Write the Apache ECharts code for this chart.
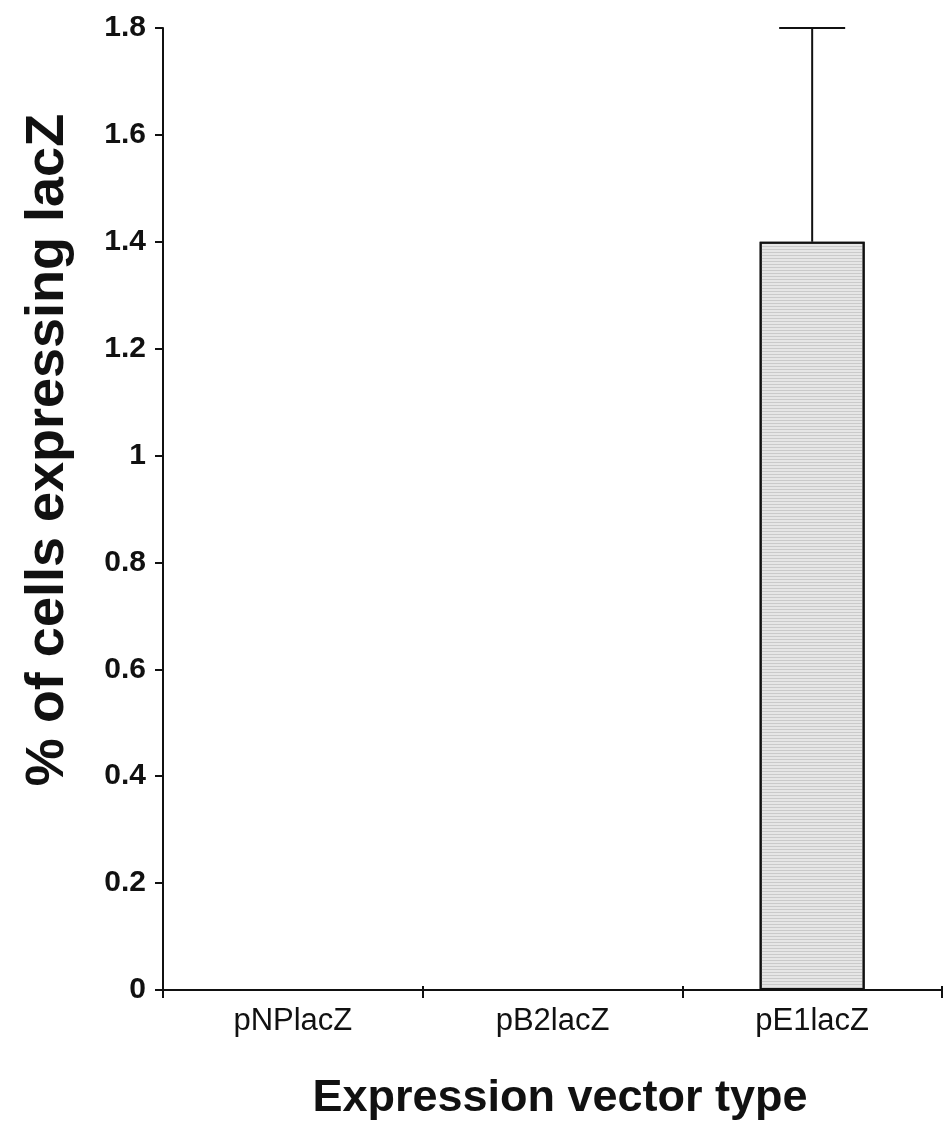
<!DOCTYPE html>
<html>
<head>
<meta charset="utf-8">
<script src="https://cdn.jsdelivr.net/npm/echarts@6/dist/echarts.min.js"></script>
<style>html,body{margin:0;padding:0;background:#fff;}#c{width:943px;height:1130px;}</style>
</head>
<body>
<div id="c"></div>
<script>
const categories = ['pNPlacZ', 'pB2lacZ', 'pE1lacZ'];
const values = [0, 0, 1.4];
const errors = [0, 0, 0.4];
const yTicks = [0, 0.2, 0.4, 0.6, 0.8, 1, 1.2, 1.4, 1.6, 1.8];

const chart = echarts.init(document.getElementById('c'));
const errData = categories.map((c, i) => [i, values[i], values[i] + errors[i]]);

chart.setOption({
  animation: false,
  backgroundColor: '#fff',
  grid: { left: 163, right: 1, top: 28, bottom: 140, containLabel: false },
  xAxis: [{
    type: 'category',
    data: categories,
    boundaryGap: true,
    axisLine: { lineStyle: { color: '#111', width: 2 } },
    axisTick: { show: true, length: 8, lineStyle: { color: '#111', width: 2 } },
    axisLabel: { color: '#111', fontFamily: 'Liberation Sans, Arial', fontSize: 31, margin: 16 },
    splitLine: { show: false }
  }, {
    type: 'category',
    data: categories,
    position: 'bottom',
    boundaryGap: true,
    axisLine: { show: false },
    axisTick: { show: true, inside: true, length: 4, lineStyle: { color: '#111', width: 2 } },
    axisLabel: { show: false },
    splitLine: { show: false }
  }],
  yAxis: {
    type: 'value',
    min: 0, max: 1.8, interval: 0.2,
    axisLine: { show: true, lineStyle: { color: '#111', width: 2 } },
    axisTick: { show: true, length: 8, lineStyle: { color: '#111', width: 2 } },
    splitLine: { show: false },
    axisLabel: {
      color: '#111', fontFamily: 'Liberation Sans, Arial', fontSize: 30, fontWeight: 'bold', margin: 17,
      formatter: v => {
        const t = yTicks.find(x => Math.abs(x - v) < 1e-9);
        return t === undefined ? '' : String(t);
      }
    }
  },
  series: [{
    type: 'bar',
    data: values,
    barWidth: 105,
    itemStyle: {
      color: '#e6e6e6',
      borderColor: '#111',
      borderWidth: 2,
      decal: { symbol: 'rect', symbolSize: 1, dashArrayX: [1, 0], dashArrayY: [1, 2], rotation: 0, color: 'rgba(150,150,150,0.35)' }
    },
    z: 2
  }, {
    type: 'custom',
    data: errData,
    z: 3,
    renderItem: (params, api) => {
      const i = api.value(0);
      const lo = api.coord([i, api.value(1)]);
      const hi = api.coord([i, api.value(2)]);
      if (api.value(2) === api.value(1)) return null;
      const half = 33;
      return {
        type: 'group',
        children: [
          { type: 'line', shape: { x1: lo[0], y1: lo[1], x2: hi[0], y2: hi[1] }, style: { stroke: '#111', lineWidth: 2 } },
          { type: 'line', shape: { x1: hi[0] - half, y1: hi[1], x2: hi[0] + half, y2: hi[1] }, style: { stroke: '#111', lineWidth: 2 } }
        ]
      };
    }
  }],
  graphic: [{
    type: 'text',
    x: 48,
    y: 450,
    rotation: Math.PI / 2,
    style: { text: '% of cells expressing lacZ', font: 'bold 54px "Liberation Sans", Arial', fill: '#111', align: 'center', verticalAlign: 'middle' }
  }, {
    type: 'text',
    x: 560,
    y: 1099,
    style: { text: 'Expression vector type', font: 'bold 45px "Liberation Sans", Arial', fill: '#111', align: 'center', verticalAlign: 'middle' }
  }]
});
</script>
</body>
</html>
